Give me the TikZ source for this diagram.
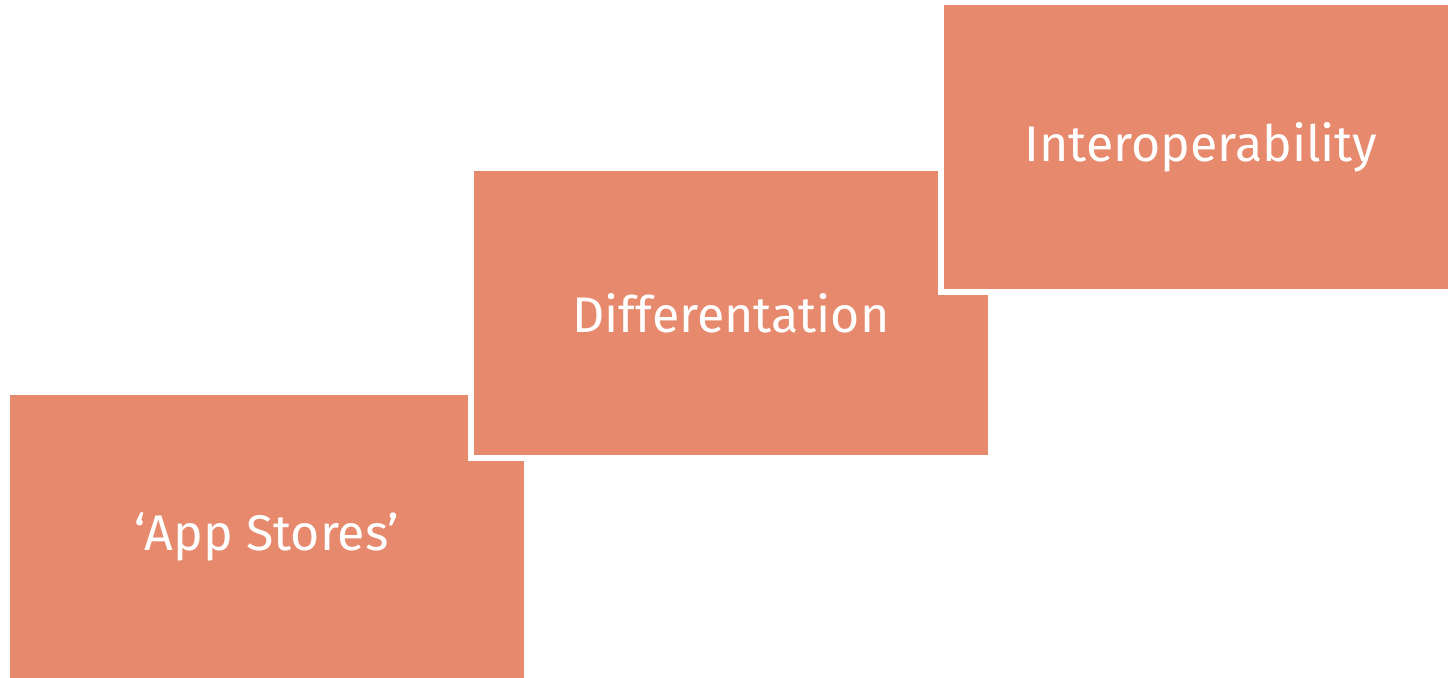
\documentclass[tikz,border=0pt]{standalone}
\usepackage{fontspec}
\setmainfont{Fira Sans}
\usetikzlibrary{positioning}
\definecolor{stepfill}{RGB}{230,137,108}
\begin{document}
\begin{tikzpicture}[x=0.02cm, y=-0.02cm,
    stepbox/.style={rectangle, fill=stepfill, draw=white, line width=3.4pt,
      minimum width=10.4cm, minimum height=5.8cm, inner sep=0pt,
      text=white, font=\fontsize{28.5}{34}\selectfont}]
        \useasboundingbox (0,0) rectangle (1448,678);
        \node[stepbox] (stores) at (267,537) {‘App Stores’};
        \node[stepbox] (diff) at (731,313) {Differentation};
        \node[stepbox] (interop) at (1201,147) {Interoperability};
      \end{tikzpicture}
\end{document}
